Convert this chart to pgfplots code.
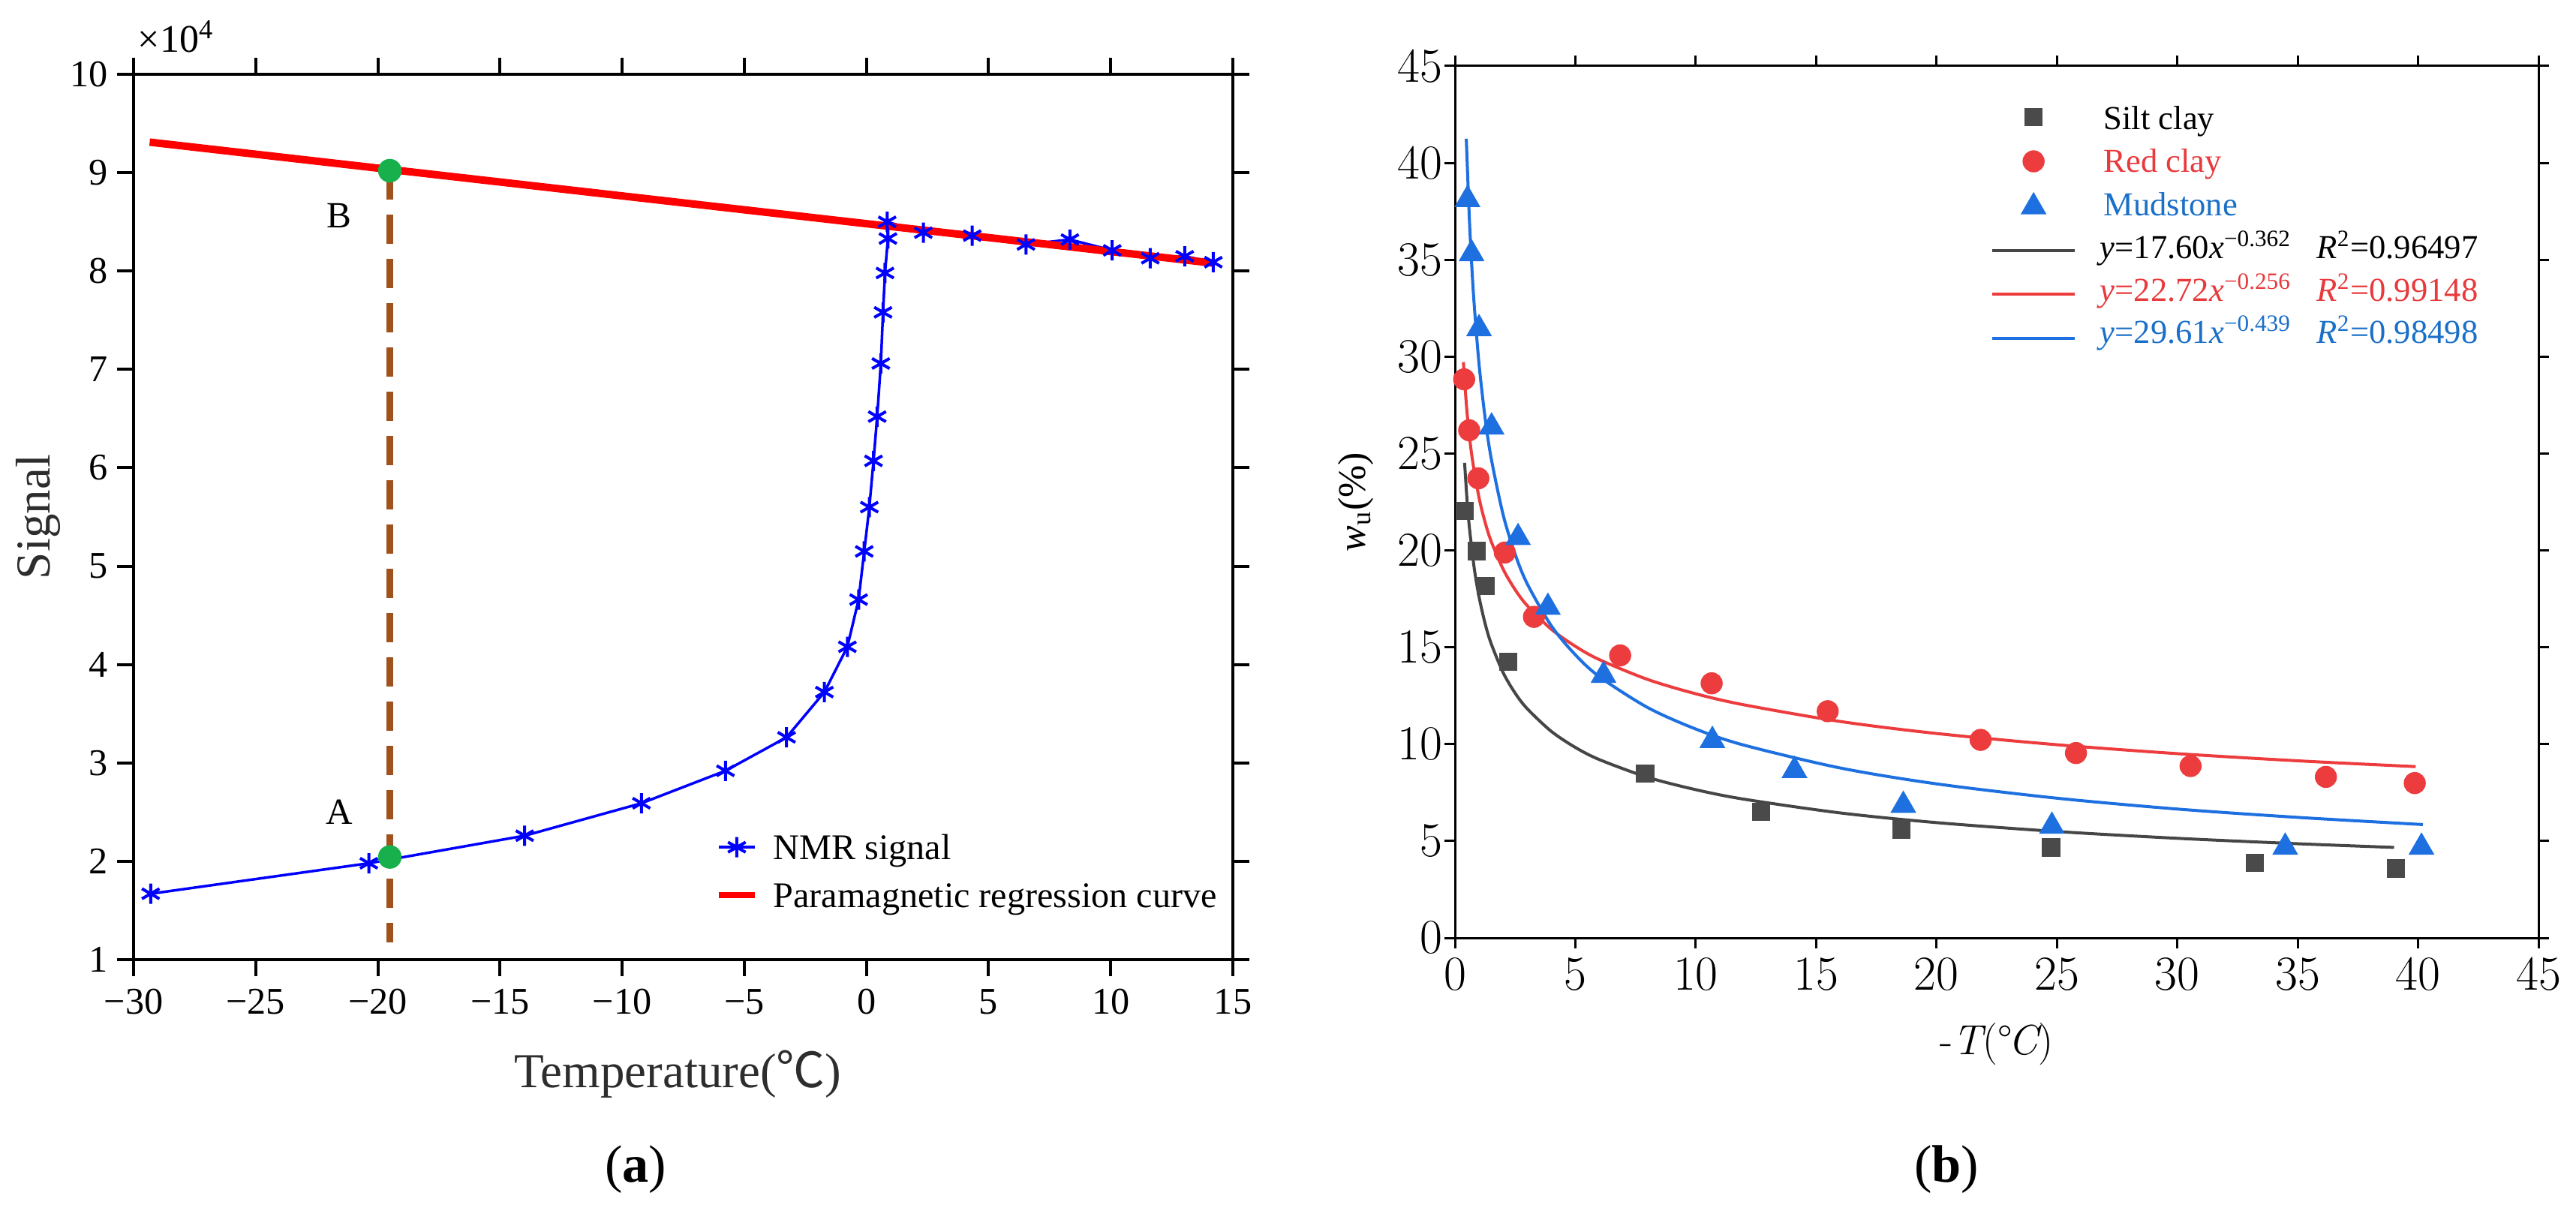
\documentclass[border=0pt]{standalone}
\usepackage{fontspec}
\setmainfont{Liberation Serif}
\newfontfamily\cjk{Noto Sans CJK SC}
\newfontfamily\lmr{Latin Modern Roman}
\usepackage{pgfplots}
\pgfplotsset{compat=1.18}
\definecolor{nmrblue}{RGB}{0,0,255}
\definecolor{regred}{RGB}{255,0,0}
\definecolor{dashbrown}{RGB}{160,82,30}
\definecolor{ptgreen}{RGB}{24,176,76}
\definecolor{siltgray}{RGB}{74,74,74}
\definecolor{siltline}{RGB}{70,70,70}
\definecolor{redclay}{RGB}{236,60,62}
\definecolor{mudblue}{RGB}{30,112,224}
\definecolor{redtext}{RGB}{232,57,60}
\definecolor{bluetext}{RGB}{26,112,200}
\definecolor{labgray}{RGB}{45,45,45}
\newcommand{\fs}[1]{\fontsize{#1}{#1}\selectfont}

\begin{document}
\begin{tikzpicture}
\path[use as bounding box] (0,0) rectangle (34.33,16.13);

% ---------------- (a) ----------------
\begin{axis}[
  at={(1.78cm,3.34cm)}, anchor=south west, scale only axis,
  width=14.65cm, height=11.80cm,
  xmin=-30, xmax=15, ymin=1, ymax=10,
  xtick={-30,-25,...,15}, ytick={1,2,...,10},
  xticklabels={−30,−25,−20,−15,−10,−5,0,5,10,15},
  yticklabels={1,2,3,4,5,6,7,8,9,10},
  tick align=outside, major tick length=0.22cm,
  tick style={black, line width=0.04cm},
  axis line style={line width=0.04cm},
  tick label style={font=\fs{14.3}},
  xticklabel shift=0.05cm,
  xlabel={Temperature({\cjk ℃})},
  ylabel={Signal},
  xlabel style={font=\fs{18.5}, text=labgray, at={(axis description cs:0.4952,-0.1449)}, anchor=base},
  ylabel style={font=\fs{18.5}, text=labgray, at={(axis description cs:-0.0758,0.5)}, anchor=base},
  clip=false,
]
\addplot[nmrblue, line width=0.035cm, mark=asterisk, mark size=0.135cm,
  mark options={line width=0.04cm}] coordinates {
  (-29.3,1.67) (-20.37,1.98) (-13.99,2.26) (-9.21,2.59) (-5.77,2.92)
  (-3.27,3.26) (-1.72,3.72) (-0.78,4.18) (-0.32,4.66) (-0.09,5.15)
  (0.12,5.60) (0.29,6.07) (0.44,6.52) (0.59,7.06) (0.68,7.58)
  (0.76,7.98) (0.88,8.33) (0.85,8.50) (2.33,8.39) (4.33,8.36)
  (6.53,8.27) (8.33,8.32) (10.06,8.21) (11.62,8.13) (13.03,8.15) (14.2,8.09)
};
\addplot[regred, line width=0.1cm] coordinates {(-29.34,9.31) (14.2,8.08)};
\addplot[dashbrown, line width=0.09cm, dash pattern=on 0.39cm off 0.2cm]
  coordinates {(-19.51,9.02) (-19.51,1.175)};
\addplot[only marks, mark=*, mark size=0.15cm, ptgreen]
  coordinates {(-19.51,9.02) (-19.51,2.044)};
\node[font=\fs{14}] at (axis cs:-21.58,8.56) {B};
\node[font=\fs{14}] at (axis cs:-21.58,2.50) {A};
% legend
\addplot[forget plot, nmrblue, line width=0.035cm, mark=asterisk, mark size=0.135cm,
  mark indices={2}, mark options={line width=0.04cm}]
  coordinates {(-6.04,2.143) (-5.305,2.143) (-4.57,2.143)};
\addplot[forget plot, regred, line width=0.08cm]
  coordinates {(-6.04,1.655) (-4.57,1.655)};
\node[font=\fs{13.7}, anchor=base west, inner sep=0pt] at (axis cs:-3.83,2.017) {NMR signal};
\node[font=\fs{13.7}, anchor=base west, inner sep=0pt] at (axis cs:-3.83,1.53) {Paramagnetic regression curve};
\node[font=\fs{14.8}, anchor=base west, inner sep=0pt] at (axis description cs:0.0034,1.0246) {×10\textsuperscript{4}};
\end{axis}

% ---------------- (b) ----------------
\begin{axis}[
  at={(19.39cm,3.63cm)}, anchor=south west, scale only axis,
  width=14.44cm, height=11.62cm,
  xmin=0, xmax=45, ymin=0, ymax=45,
  xtick={0,5,...,45}, ytick={0,5,...,45},
  tick align=outside, major tick length=0.14cm,
  tick style={black, line width=0.03cm},
  axis line style={line width=0.03cm},
  /pgf/number format/assume math mode=true,
  tick label style={font=\lmr\fs{18.5}},
  yticklabel shift=-0.1cm,
  xlabel={{\lmr -\itshape T\upshape(°\kern-0.08em\itshape C\upshape)}},
  ylabel={\textit{w}\textsubscript{u}(\%)},
  xlabel style={font=\fs{16}, at={(axis description cs:0.5,-0.1334)}, anchor=base},
  ylabel style={font=\fs{14.8}, at={(axis description cs:-0.0831,0.5)}, anchor=base},
  clip=false,
]
% fitted curves
\addplot[siltline, line width=0.04cm, smooth] coordinates {
  (0.4,24.52) (0.5,22.62) (0.6,21.17) (0.8,19.08) (1,17.60) (1.25,16.23)
  (1.5,15.20) (2,13.69) (2.5,12.63) (3,11.83) (4,10.66) (5,9.83) (6,9.20)
  (8,8.29) (10,7.65) (12,7.16) (16,6.45) (20,5.95) (25,5.49) (30,5.14)
  (35,4.86) (39,4.67)
};
\addplot[redclay, line width=0.04cm, smooth] coordinates {
  (0.35,29.72) (0.5,27.13) (0.7,24.89) (1,22.72) (1.25,21.46) (1.5,20.48)
  (2,19.03) (2.5,17.97) (3,17.15) (4,15.93) (5,15.05) (6,14.36) (8,13.34)
  (10,12.60) (12,12.03) (16,11.17) (20,10.55) (25,9.97) (30,9.51)
  (35,9.14) (39.9,8.84)
};
\addplot[mudblue, line width=0.04cm, smooth] coordinates {
  (0.47,41.25) (0.6,37.05) (0.7,34.63) (0.8,32.66) (1,29.61) (1.25,26.85)
  (1.5,24.78) (2,21.84) (2.5,19.80) (3,18.28) (4,16.11) (5,14.61) (6,13.48)
  (8,11.89) (10,10.78) (12,9.95) (16,8.77) (20,7.95) (25,7.21) (30,6.65)
  (35,6.22) (40.2,5.85)
};
% data
\addplot[only marks, mark=square*, mark size=0.115cm, siltgray] coordinates {
  (0.41,22.04) (0.90,19.97) (1.28,18.17) (2.21,14.26) (7.90,8.47)
  (12.72,6.51) (18.55,5.59) (24.76,4.67) (33.21,3.87) (39.07,3.59)
};
\addplot[only marks, mark=*, mark size=0.14cm, redclay] coordinates {
  (0.38,28.83) (0.59,26.2) (0.97,23.72) (2.07,19.89) (3.28,16.57)
  (6.86,14.58) (10.66,13.14) (15.48,11.70) (21.83,10.22) (25.79,9.54)
  (30.55,8.87) (36.17,8.31) (39.86,7.99)
};
\addplot[only marks, mark=triangle*, mark size=0.185cm, mudblue] coordinates {
  (0.52,38.11) (0.69,35.31) (1.0,31.44) (1.52,26.37) (2.62,20.66)
  (3.86,17.06) (6.17,13.55) (10.69,10.19) (14.10,8.64) (18.62,6.84)
  (24.79,5.76) (34.48,4.68) (40.14,4.68)
};
% legend
\addplot[forget plot, only marks, mark=square*, mark size=0.115cm, siltgray] coordinates {(24.03,42.36)};
\addplot[forget plot, only marks, mark=*, mark size=0.14cm, redclay] coordinates {(24.03,40.08)};
\addplot[forget plot, only marks, mark=triangle*, mark size=0.185cm, mudblue] coordinates {(24.03,37.73)};
\addplot[forget plot, siltline, line width=0.04cm] coordinates {(22.31,35.47) (25.74,35.47)};
\addplot[forget plot, redclay, line width=0.04cm] coordinates {(22.31,33.22) (25.74,33.22)};
\addplot[forget plot, mudblue, line width=0.04cm] coordinates {(22.31,30.93) (25.74,30.93)};
\node[font=\fs{12.7}, anchor=base west, inner sep=0pt] at (axis cs:26.92,41.71) {Silt clay};
\node[font=\fs{12.7}, anchor=base west, inner sep=0pt, text=redtext] at (axis cs:26.92,39.53) {Red clay};
\node[font=\fs{12.7}, anchor=base west, inner sep=0pt, text=bluetext] at (axis cs:26.92,37.29) {Mudstone};
\node[font=\fs{12.7}, anchor=base west, inner sep=0pt] at (axis cs:26.77,35.08) {\textit{y}=17.60\textit{x}\textsuperscript{−0.362}};
\node[font=\fs{12.7}, anchor=base west, inner sep=0pt, text=redtext] at (axis cs:26.77,32.87) {\textit{y}=22.72\textit{x}\textsuperscript{−0.256}};
\node[font=\fs{12.7}, anchor=base west, inner sep=0pt, text=bluetext] at (axis cs:26.77,30.70) {\textit{y}=29.61\textit{x}\textsuperscript{−0.439}};
\node[font=\fs{12.7}, anchor=base west, inner sep=0pt] at (axis cs:35.77,35.08) {\textit{R}\textsuperscript{2}=0.96497};
\node[font=\fs{12.7}, anchor=base west, inner sep=0pt, text=redtext] at (axis cs:35.77,32.87) {\textit{R}\textsuperscript{2}=0.99148};
\node[font=\fs{12.7}, anchor=base west, inner sep=0pt, text=bluetext] at (axis cs:35.77,30.70) {\textit{R}\textsuperscript{2}=0.98498};
\end{axis}

\node[font=\fs{20}, anchor=base] at (8.47,0.38) {(\textbf{a})};
\node[font=\fs{20}, anchor=base] at (25.94,0.38) {(\textbf{b})};
\end{tikzpicture}
\end{document}
